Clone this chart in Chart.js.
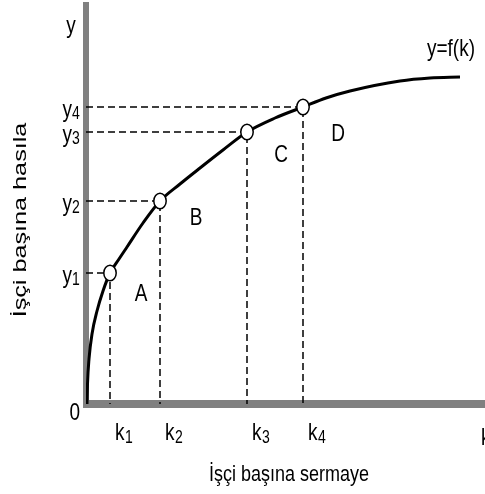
<!DOCTYPE html>
<html>
<head>
<meta charset="utf-8">
<script src="https://cdn.jsdelivr.net/npm/chart.js@4"></script>
<style>
    html, body { margin: 0; background: #fff; overflow: hidden; }
    #wrap { width: 485px; height: 494px; }
    canvas { display: block; }
</style>
</head>
<body>
<div id="wrap"><canvas id="myChart"></canvas></div>
<script>
// production function y = f(k)
const curveK = [0.1, 0.15, 0.3, 0.6, 1.1, 1.7, 2.4, 3.3, 4.1, 5.7, 7.4, 9.4, 11.4, 13.7, 16.1, 18.9, 21.7, 24.0, 26.4, 31.4, 34.4, 37.4];
const curveY = [0.0, 2.0, 4.5, 7.0, 9.3, 11.3, 13.1, 14.5, 15.7, 18.1, 20.3, 22.0, 23.6, 25.4, 27.2, 28.6, 29.7, 30.6, 31.3, 32.3, 32.6, 32.7];

// marked points A..D
const kValues = [2.4, 7.4, 16.1, 21.7];
const yValues = [13.1, 20.3, 27.2, 29.7];
const pointNames = ['A', 'B', 'C', 'D'];
const subs = ['1', '2', '3', '4'];

const FONT = '"Liberation Sans", Arial, sans-serif';

function text(ctx, str, x, y, size, align) {
    ctx.save();
    ctx.translate(x, y);
    ctx.scale(1, 1.25);
    ctx.font = size + 'px ' + FONT;
    ctx.textAlign = align || 'left';
    ctx.textBaseline = 'alphabetic';
    ctx.fillStyle = '#000';
    ctx.fillText(str, 0, 0);
    ctx.restore();
}

// the marked points are a bit taller than wide in the picture
function ovalMarker() {
    const c = document.createElement('canvas');
    c.width = 16;
    c.height = 20;
    const g = c.getContext('2d');
    g.beginPath();
    g.ellipse(8, 10, 6.2, 7.8, 0, 0, Math.PI * 2);
    g.fillStyle = '#fff';
    g.fill();
    g.lineWidth = 1.5;
    g.strokeStyle = '#000';
    g.stroke();
    return c;
}

const axesPlugin = {
    id: 'axesPlugin',
    beforeDatasetsDraw(chart) {
        const ctx = chart.ctx;
        const xs = chart.scales.x;
        const ys = chart.scales.y;
        const x0 = xs.getPixelForValue(0);
        const y0 = ys.getPixelForValue(0);
        ctx.save();
        ctx.strokeStyle = '#808080';
        ctx.lineWidth = 6;
        ctx.beginPath();
        ctx.moveTo(x0, 2);
        ctx.lineTo(x0, y0 + 4);
        ctx.stroke();
        ctx.lineWidth = 8;
        ctx.beginPath();
        ctx.moveTo(x0 - 3, y0);
        ctx.lineTo(chart.width, y0);
        ctx.stroke();
        ctx.restore();
    },
    afterDatasetsDraw(chart) {
        const ctx = chart.ctx;
        const xs = chart.scales.x;
        const ys = chart.scales.y;
        const x0 = xs.getPixelForValue(0);
        const y0 = ys.getPixelForValue(0);

        // y labels
        text(ctx, 'y', x0 - 15, 33, 19, 'center');
        for (let i = 0; i < yValues.length; i++) {
            const py = ys.getPixelForValue(yValues[i]);
            text(ctx, 'y', x0 - 14, py + 10, 19, 'right');
            text(ctx, subs[i], x0 - 14, py + 12, 14, 'left');
        }
        text(ctx, '0', x0 - 6, y0 + 16, 19, 'right');

        // k labels
        for (let i = 0; i < kValues.length; i++) {
            const px = xs.getPixelForValue(kValues[i]);
            text(ctx, 'k', px + 5, y0 + 36, 19, 'left');
            text(ctx, subs[i], px + 15, y0 + 39, 14, 'left');
        }
        text(ctx, 'k', chart.width - 4, y0 + 41, 19, 'left');

        // point letters
        const offs = [[31, 28], [36, 24], [34, 30], [35, 34]];
        for (let i = 0; i < kValues.length; i++) {
            const px = xs.getPixelForValue(kValues[i]);
            const py = ys.getPixelForValue(yValues[i]);
            text(ctx, pointNames[i], px + offs[i][0], py + offs[i][1], 19, 'center');
        }

        text(ctx, 'y=f(k)', 427, 56, 19, 'left');

        // axis titles
        text(ctx, 'İşçi başına sermaye', 289, 481, 18, 'center');
        ctx.save();
        ctx.translate(26, 220);
        ctx.rotate(-Math.PI / 2);
        ctx.scale(1.4, 1);
        ctx.font = '18px ' + FONT;
        ctx.textAlign = 'center';
        ctx.fillStyle = '#000';
        ctx.fillText('İşçi başına hasıla', 0, 0);
        ctx.restore();
    }
};

const datasets = [];

datasets.push({
    data: kValues.map((k, i) => ({ x: k, y: yValues[i] })),
    showLine: false,
    pointStyle: ovalMarker(),
    pointRadius: 8,
    order: 0
});

datasets.push({
    data: curveK.map((k, i) => ({ x: k, y: curveY[i] })),
    borderColor: '#000',
    borderWidth: 3,
    pointRadius: 0,
    cubicInterpolationMode: 'monotone',
    order: 1
});

for (let i = 0; i < kValues.length; i++) {
    datasets.push({
        data: [{ x: 0, y: yValues[i] }, { x: kValues[i], y: yValues[i] }, { x: kValues[i], y: 0 }],
        borderColor: '#000',
        borderWidth: 1.5,
        borderDash: [7, 4],
        pointRadius: 0,
        order: 2
    });
}

var ctx = document.getElementById('myChart').getContext('2d');
var chart = new Chart(ctx, {
    type: 'scatter',
    data: { datasets: datasets },
    options: {
        responsive: true,
        maintainAspectRatio: false,
        animation: false,
        layout: { autoPadding: false, padding: { left: 86, right: 0, top: 2, bottom: 90 } },
        plugins: { legend: { display: false }, tooltip: { enabled: false } },
        datasets: { scatter: { showLine: true } },
        scales: {
            x: { type: 'linear', display: false, min: 0, max: 39.9 },
            y: { type: 'linear', display: false, min: 0, max: 40.2 }
        }
    },
    plugins: [axesPlugin]
});
</script>
</body>
</html>
